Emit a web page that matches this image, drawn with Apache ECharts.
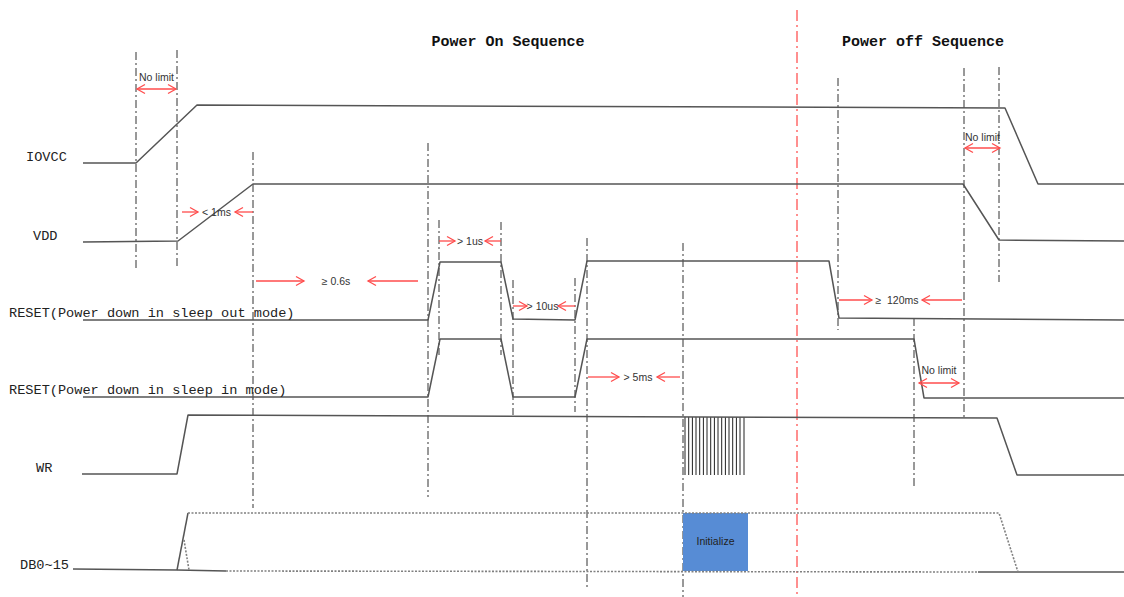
<!DOCTYPE html>
<html><head><meta charset="utf-8">
<script src="https://cdn.jsdelivr.net/npm/echarts/dist/echarts.min.js"></script>
<style>html,body{margin:0;padding:0;background:#fff}#c{width:1124px;height:597px}</style>
</head><body><div id="c"></div>
<script>
// ---- Waveform data (time, level) in the diagram's coordinate space ----
const iovcc = [[83,163],[136,163],[197,105],[1005,108],[1038,184],[1124,184]];
const vdd = [[83,242],[178,241],[253,184],[963,184],[999,240],[1124,241]];
const resetSleepOut = [[83,320],[428,320],[440,262],[501,262],[513,319],[575,320],[587,261],[829,261],[839,318],[1124,320]];
const resetSleepIn = [[83,397],[428,397],[440,339],[501,339],[513,397],[575,397],[587,339],[914,339],[924,398],[1124,398]];
const wr = [[82,474],[177,474],[188,415],[997,418],[1017,475],[1124,475]];
const wrBurstX = [685,688.7,692.4,696,699.7,703.4,707,710.7,714.4,718,721.7,725.4,729,732.7,736.4,740,744];
const wrBurstLevels = [417,475];
const dbSolidLow = [[73,569],[177,570],[226,571]];
const dbSolidRise = [[177,570],[188,513]];
const dbDottedTop = [[188,513],[999,513],[1018,572]];
const dbDottedLow = [[226,571],[978,572]];
const dbSolidEnd = [[978,572],[1124,572]];
const dbCross = [[184,540],[189,570]];
const initBlock = [683,748,513,571];
const initText = 'Initialize';

// ---- Timing markers: [x, yTop, yBottom] ----
const guides = [[136,52,268],[177,50,268],[253,152,508],[428,143,497],[439,220,355],[501,222,355],
  [513,280,415],[575,278,412],[587,238,588],[683,243,597],[838,78,330],[914,318,489],[964,68,420],[999,67,282]];
const divider = [[797,10,597]];

// ---- Timing annotations ----
// inward: [leftFrom, leftTo, rightTo, rightFrom, y, text]
const inward = [[182,198,235,253,212,'< 1ms'],[256,304,368,418,281,'≥ 0.6s'],[439,455,485,501,241,'> 1us'],
  [513,527,558,575,306,'> 10us'],[588,619,657,680,377,'> 5ms'],[839,872,922,962,300,'≥  120ms']];
// double: [x1, x2, y, text, textY]
const doubleArrows = [[137,176,89,'No limit',77],[965,1000,148,'No limit',137],[919,959,383,'No limit',370]];

// ---- Text ----
const signalNames = ['IOVCC','VDD','RESET(Power down in sleep out mode)','RESET(Power down in sleep in mode)','WR','DB0~15'];
const signalLabelAt = [[26,157],[33,236],[9,313],[9,390],[36,468],[20,565]];
const titles = ['Power On Sequence','Power off Sequence'];
const titleAt = [[508,42],[923,42]];

const RED = '#ff4d4d';
const SIG = '#555';
const MONO = '"Liberation Mono","DejaVu Sans Mono",monospace';
const SANS = '"Liberation Sans","Noto Sans",sans-serif';

function sig(data, dotted){
  return {type:'line', data, showSymbol:false, silent:true, animation:false, z:3,
    lineStyle:{color: dotted?'#808080':SIG, width: dotted?1.6:1.5, type: dotted?[2,1.5]:'solid'}};
}
function chev(p, dir){
  return {type:'polyline', shape:{points:[[p[0]-dir*8,p[1]-4.5],[p[0],p[1]],[p[0]-dir*8,p[1]+4.5]]},
    style:{stroke:RED, lineWidth:1.3, fill:null}};
}

const chart = echarts.init(document.getElementById('c'), null, {renderer:'svg'});
chart.setOption({
  animation:false,
  backgroundColor:'#fff',
  grid:{left:0,right:0,top:0,bottom:0},
  xAxis:{type:'value',min:0,max:1124,show:false},
  yAxis:{type:'value',min:0,max:597,inverse:true,show:false},
  series:[
    {type:'custom', data:guides, silent:true, z:1, encode:{x:0,y:1},
      renderItem:(p,api)=>{const a=api.coord([api.value(0),api.value(1)]),b=api.coord([api.value(0),api.value(2)]);
        return {type:'line',shape:{x1:a[0],y1:a[1],x2:b[0],y2:b[1]},style:{stroke:'#333',lineWidth:1,lineDash:[8,3,2,3]}};}},
    {type:'custom', data:divider, silent:true, z:1, encode:{x:0,y:1},
      renderItem:(p,api)=>{const a=api.coord([api.value(0),api.value(1)]),b=api.coord([api.value(0),api.value(2)]);
        return {type:'line',shape:{x1:a[0],y1:a[1],x2:b[0],y2:b[1]},style:{stroke:'#ff6b6b',lineWidth:1.5,lineDash:[11,4,2,4]}};}},
    sig(iovcc), sig(vdd), sig(resetSleepOut), sig(resetSleepIn), sig(wr),
    sig(dbSolidLow), sig(dbSolidRise), sig(dbSolidEnd), sig(dbDottedTop,true), sig(dbDottedLow,true), sig(dbCross,true),
    {type:'custom', data:wrBurstX.map(x=>[x]), silent:true, z:3, encode:{x:0},
      renderItem:(p,api)=>{const a=api.coord([api.value(0),wrBurstLevels[0]]),b=api.coord([api.value(0),wrBurstLevels[1]]);
        return {type:'line',shape:{x1:a[0],y1:a[1],x2:b[0],y2:b[1]},style:{stroke:'#222',lineWidth:1}};}},
    {type:'custom', data:[initBlock], silent:true, z:2, encode:{x:[0,1],y:[2,3]},
      renderItem:(p,api)=>{const a=api.coord([api.value(0),api.value(2)]),b=api.coord([api.value(1),api.value(3)]);
        return {type:'group',children:[
          {type:'rect',shape:{x:a[0],y:a[1],width:b[0]-a[0],height:b[1]-a[1]},style:{fill:'#578cd5'}},
          {type:'text',style:{text:initText,x:(a[0]+b[0])/2,y:(a[1]+b[1])/2-1,align:'center',verticalAlign:'middle',font:'10.5px '+SANS,fill:'#222'}}]};}},
    {type:'custom', data:inward.map(d=>d.slice(0,5)), silent:true, z:4, encode:{x:[0,3],y:4},
      renderItem:(p,api)=>{const d=inward[p.dataIndex];
        const l1=api.coord([d[0],d[4]]),l2=api.coord([d[1],d[4]]),r2=api.coord([d[2],d[4]]),r1=api.coord([d[3],d[4]]);
        return {type:'group',children:[
          {type:'line',shape:{x1:l1[0],y1:l1[1],x2:l2[0],y2:l2[1]},style:{stroke:RED,lineWidth:1.3}},
          chev(l2,1),
          {type:'line',shape:{x1:r1[0],y1:r1[1],x2:r2[0],y2:r2[1]},style:{stroke:RED,lineWidth:1.3}},
          chev(r2,-1),
          {type:'text',style:{text:d[5],x:(l2[0]+r2[0])/2,y:l2[1],align:'center',verticalAlign:'middle',font:'10.5px '+SANS,fill:'#333'}}]};}},
    {type:'custom', data:doubleArrows.map(d=>[d[0],d[1],d[2]]), silent:true, z:4, encode:{x:[0,1],y:2},
      renderItem:(p,api)=>{const d=doubleArrows[p.dataIndex];
        const a=api.coord([d[0],d[2]]),b=api.coord([d[1],d[2]]),t=api.coord([(d[0]+d[1])/2,d[4]]);
        return {type:'group',children:[
          {type:'line',shape:{x1:a[0],y1:a[1],x2:b[0],y2:b[1]},style:{stroke:RED,lineWidth:1.3}},
          chev(a,-1), chev(b,1),
          {type:'text',style:{text:d[3],x:t[0],y:t[1],align:'center',verticalAlign:'middle',font:'10.5px '+SANS,fill:'#333'}}]};}},
    {type:'custom', data:signalLabelAt, silent:true, z:5, encode:{x:0,y:1},
      renderItem:(p,api)=>{const a=api.coord([api.value(0),api.value(1)]);
        return {type:'text',style:{text:signalNames[p.dataIndex],x:a[0],y:a[1],align:'left',verticalAlign:'middle',font:'13.6px '+MONO,fill:'#222'}};}},
    {type:'custom', data:titleAt, silent:true, z:5, encode:{x:0,y:1},
      renderItem:(p,api)=>{const a=api.coord([api.value(0),api.value(1)]);
        return {type:'text',style:{text:titles[p.dataIndex],x:a[0],y:a[1],align:'center',verticalAlign:'middle',font:'bold 15px '+MONO,fill:'#111'}};}}
  ]
});
</script></body></html>
